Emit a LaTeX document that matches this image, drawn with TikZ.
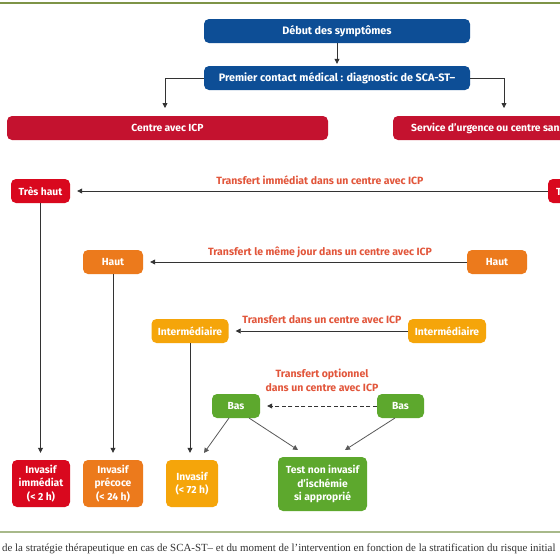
\documentclass[tikz,border=0pt]{standalone}
\usepackage{fontspec}
\setmainfont{Fira Sans}
\newfontfamily\capfont{Liberation Serif}
\usetikzlibrary{arrows.meta}
\definecolor{cblue}{HTML}{0D4E96}
\definecolor{cred}{HTML}{C4122F}
\definecolor{cvred}{HTML}{D9081E}
\definecolor{corange}{HTML}{EC7A1C}
\definecolor{cyellow}{HTML}{F5A50A}
\definecolor{cgreen}{HTML}{5DA82D}
\definecolor{clabel}{HTML}{E2563B}
\definecolor{crule}{HTML}{7E9447}
\definecolor{crule2}{HTML}{A8B98A}
\definecolor{cline}{HTML}{333333}
\tikzset{
  box/.style={fill=#1, rounded corners=5pt, text=white, font=\bfseries\fontsize{10.3}{13.5}\selectfont, inner sep=0pt, align=center, minimum height=24pt},
  lbl/.style={text=clabel, font=\bfseries\fontsize{10.5}{14}\selectfont, align=center, inner sep=0pt},
  arr/.style={draw=cline, line width=0.8pt, -{Triangle[width=5pt,length=5pt]}},
  dasharr/.style={arr, dash pattern=on 4pt off 2.5pt},
  garr/.style={draw=black!65, line width=0.8pt, -{Triangle[width=5pt,length=5pt]}}
}
\begin{document}
\begin{tikzpicture}[x=1pt,y=-1pt]
\useasboundingbox (0,0) rectangle (560,560);
\clip (0,0) rectangle (560,560);
\fill[white] (0,0) rectangle (560,560);
\draw[crule, line width=1.2pt] (0,3) -- (560,3);
\draw[crule2, line width=1.2pt] (0,532) -- (560,532);

% top
\node[box=cblue, minimum width=266pt, font=\bfseries\fontsize{10.8}{12}\selectfont] (debut) at (337,31) {Début des symptômes};
\node[box=cblue, minimum width=266pt, font=\bfseries\fontsize{10.8}{12}\selectfont] (pcm) at (337,78) {Premier contact médical : diagnostic de SCA-ST–};
\node[box=cred, minimum width=321pt] (centre) at (167.5,128) {Centre avec ICP};
\node[box=cred, minimum width=260pt] (service) at (523,128) {};
\node[anchor=west, text=white, font=\bfseries\fontsize{10.3}{12}\selectfont, inner sep=0pt] (servicetxt) at (411,128) {Service d’urgence ou centre sans ICP};
\coordinate (cl) at (165,116);
\coordinate (cr) at (504,116);
\draw[arr, shorten >=2pt] (debut) -- (pcm);
\draw[arr, shorten >=8pt] (pcm.west) -| (cl);
\draw[arr, shorten >=8pt] (pcm.east) -| (cr);

% risk levels
\node[box=cvred, minimum width=59pt] (th) at (40.5,191) {Très haut};
\node[box=cvred, minimum width=60pt] (thr) at (578,191) {Très haut};
\draw[arr, shorten >=7pt] (thr) -- (th);
\node[lbl] (l1) at (320,180) {Transfert immédiat dans un centre avec ICP};

\node[box=corange, minimum width=60pt] (h) at (113,262) {Haut};
\node[box=corange, minimum width=60pt] (hr) at (497,262) {Haut};
\draw[arr, shorten >=7pt] (hr) -- (h);
\node[lbl] (l2) at (320,252) {Transfert le même jour dans un centre avec ICP};

\node[box=cyellow, minimum width=77pt] (im) at (190,331) {Intermédiaire};
\node[box=cyellow, minimum width=78pt] (imr) at (447,331) {Intermédiaire};
\draw[arr, shorten >=7pt] (imr) -- (im);
\node[lbl] (l3) at (322,320) {Transfert dans un centre avec ICP};

\node[box=cgreen, minimum width=48pt] (bas) at (236,406) {Bas};
\node[box=cgreen, minimum width=47pt] (basr) at (400.5,406) {Bas};
\draw[dasharr, shorten >=7pt] (basr) -- (bas);
\node[lbl] (l4) at (322,380) {Transfert optionnel\\dans un centre avec ICP};

% outcomes
\node[box=cvred, minimum width=58pt, minimum height=47pt] (inv1) at (41,483.5) {Invasif\\immédiat\\(< 2 h)};
\node[box=corange, minimum width=60pt, minimum height=47pt] (inv2) at (113,483.5) {Invasif\\précoce\\(< 24 h)};
\node[box=cyellow, minimum width=52pt, minimum height=47pt] (inv3) at (192,483.5) {Invasif\\(< 72 h)};
\node[box=cgreen, minimum width=89pt, minimum height=54pt] (test) at (322.5,484) {Test non invasif\\d’ischémie\\si approprié};

\draw[arr, shorten >=7pt] (th) -- (th |- inv1.north);
\draw[arr, shorten >=7pt] (h) -- (h |- inv2.north);
\draw[arr, shorten >=7pt] (im) -- (im |- inv3.north);

\coordinate (b1) at (229,418);
\coordinate (b2) at (249,418);
\coordinate (b3) at (395,418);
\coordinate (t1) at (204,453);
\coordinate (t2) at (298,450);
\coordinate (t3) at (345,450);
\draw[garr] (b1) -- (t1);
\draw[garr] (b2) -- (t2);
\draw[garr] (b3) -- (t3);

\node[anchor=west, inner sep=0pt, text=black!80, font=\capfont\fontsize{10.9}{12}\selectfont] (cap) at (2,549) {de la stratégie thérapeutique en cas de SCA-ST– et du moment de l’intervention en fonction de la stratification du risque initial};
\end{tikzpicture}
\end{document}
